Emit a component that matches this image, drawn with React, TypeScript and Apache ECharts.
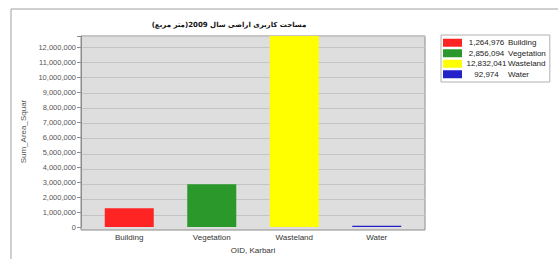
import React, { useEffect, useRef } from "react";
import * as echarts from "echarts";

const categories = ["Building", "Vegetation", "Wasteland", "Water"];
const values = [1264976, 2856094, 12832041, 92974];
const colors = ["#ff2424", "#2a982a", "#ffff00", "#2222c8"];
const titleText = "مساحت کاربری اراضی سال 2009(متر مربع)";
const yMax = 12740000;
const yStep = 1000000;

const fmt = (v: number) => v.toLocaleString("en-US");

export default function App() {
  const ref = useRef<HTMLDivElement>(null);
  useEffect(() => {
    if (!ref.current) return;
    const chart = echarts.init(ref.current, undefined, { renderer: "svg" });
    const font = "Arial, 'Liberation Sans', sans-serif";
    const series = categories.map((c, i) => ({
      type: "bar" as const,
      name: c,
      xAxisIndex: 1,
      yAxisIndex: 1,
      stack: "k",
      barWidth: 49,
      clip: true,
      itemStyle: { color: colors[i] },
      data: categories.map((_, j) => (j === i ? values[i] : "-")),
    }));
    chart.setOption({
      animation: false,
      backgroundColor: "#ffffff",
      graphic: [
        {
          type: "rect",
          z: -10,
          shape: { x: 11, y: 9, width: 700, height: 400 },
          style: { fill: "none", stroke: "#a0a0a0", lineWidth: 1 },
        },
        {
          type: "text",
          x: 229,
          y: 25,
          style: {
            text: titleText,
            align: "center",
            verticalAlign: "middle",
            font: "bold 7px 'DejaVu Sans', sans-serif",
            fill: "#111",
          },
        },
      ],
      legend: {
        orient: "vertical",
        left: 441,
        top: 35,
        width: 108,
        itemWidth: 19,
        itemHeight: 8,
        itemGap: 1,
        icon: "rect",
        borderColor: "#b0b0b0",
        borderWidth: 1,
        backgroundColor: "#ffffff",
        padding: [3, 4, 3, 2],
        data: categories,
        formatter: (name: string) => {
          const i = categories.indexOf(name);
          return `{v|${fmt(values[i])}}{n|${name}}`;
        },
        textStyle: {
          fontFamily: font,
          fontSize: 8,
          color: "#222",
          lineHeight: 9.5,
          rich: {
            v: { width: 39, align: "right", fontSize: 8, fontFamily: font, color: "#222", lineHeight: 9.5 },
            n: { fontSize: 8, fontFamily: font, color: "#222", lineHeight: 9.5, padding: [0, 0, 0, 2] },
          },
        },
      },
      grid: [
        {
          left: 81,
          top: 36,
          width: 344,
          height: 194,
          show: true,
          backgroundColor: "#dedede",
          borderColor: "#8c8c8c",
          borderWidth: 1,
        },
        { left: 88, top: 36, width: 330, height: 194 },
      ],
      xAxis: [
        { gridIndex: 0, type: "value", show: false, min: 0, max: 1 },
        {
          gridIndex: 1,
          type: "category",
          data: categories,
          axisLine: { show: false },
          axisTick: { show: false },
          axisLabel: { fontFamily: font, fontSize: 8, color: "#333", margin: 6 },
          name: "OID, Karbari",
          nameLocation: "middle",
          nameGap: 16,
          nameTextStyle: { fontFamily: font, fontSize: 8, color: "#333" },
        },
      ],
      yAxis: [
        {
          gridIndex: 0,
          type: "value",
          min: 0,
          max: yMax,
          interval: yStep,
          axisLine: { show: false },
          axisTick: { show: false },
          axisLabel: { show: false },
          splitLine: { show: true, lineStyle: { color: "#c4c4c4", width: 1 } },
        },
        {
          gridIndex: 1,
          type: "value",
          offset: 7,
          min: 0,
          max: yMax,
          interval: yStep,
          splitLine: { show: false },
          axisLine: { show: true, lineStyle: { color: "#8c8c8c" } },
          axisTick: { show: true, length: 4, lineStyle: { color: "#8c8c8c" } },
          axisLabel: {
            fontFamily: font,
            fontSize: 7.5,
            color: "#555",
            margin: 5,
            formatter: (v: number) => (v % yStep === 0 ? fmt(v) : ""),
          },
          name: "Sum_Area_Squar",
          nameLocation: "middle",
          nameGap: 44,
          nameTextStyle: { fontFamily: font, fontSize: 8, color: "#555" },
        },
      ],
      series,
    });
    return () => chart.dispose();
  }, []);
  return (
    <div
      ref={ref}
      style={{ position: "fixed", left: 0, top: 0, width: 558, height: 259 }}
    />
  );
}
